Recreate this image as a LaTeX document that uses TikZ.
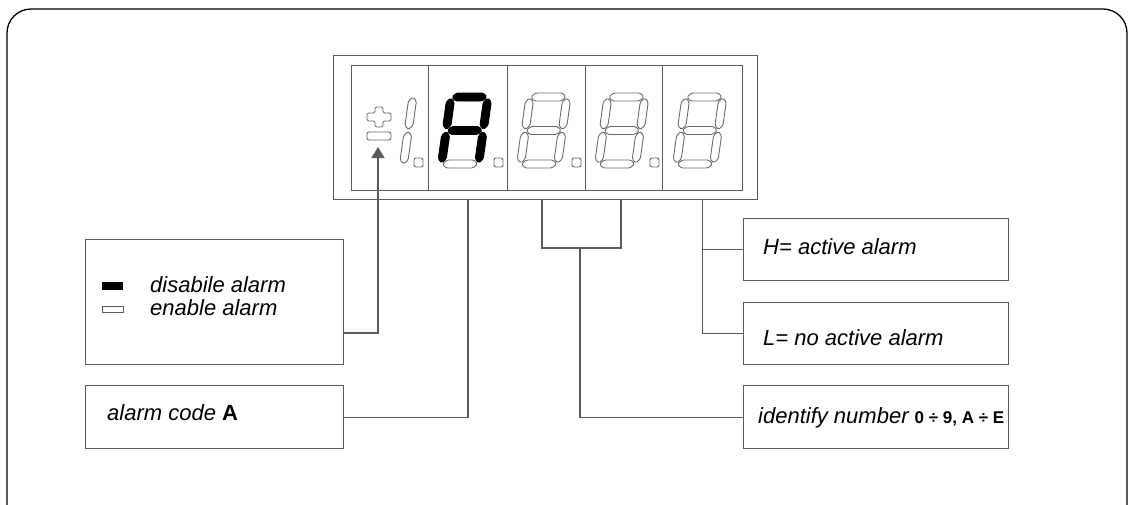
\documentclass[tikz,border=0pt]{standalone}
\usepackage{fontspec}
\setmainfont{Liberation Sans}
\usetikzlibrary{arrows.meta,positioning}
\definecolor{wiregray}{HTML}{5A5A5A}
\definecolor{seggray}{HTML}{6A6A6A}

\tikzset{
  wire/.style={draw=wiregray, line width=1.2pt},
  infobox/.style={draw=wiregray, line width=1.2pt, inner sep=0pt, anchor=north west},
  cell/.style={draw=wiregray, line width=1pt, inner sep=0pt, minimum height=125pt, anchor=north west},
  txt/.style={anchor=base west, inner sep=0pt, font=\fontsize{22}{26}\selectfont\itshape},
  seg/.style={draw=seggray, line width=0.9pt, rounded corners=1.5pt},
  lit/.style={fill=black, draw=black},
  sa/.style={}, sb/.style={}, sc/.style={}, sd/.style={}, se/.style={}, sf/.style={}, sg/.style={}
}

% one segment, lying or standing, given by its two tips
\newcommand{\hseg}[4][]{\draw[seg,#1] (#2,#4) -- ++(4,4) -- ({#3-4},{#4+4}) -- (#3,#4) -- ({#3-4},{#4-4}) -- ({#2+4},{#4-4}) -- cycle;}
\newcommand{\vseg}[4][]{\draw[seg,#1] (#2,#3) -- ++(4,4) -- ({#2+4},{#4-4}) -- (#2,#4) -- ({#2-4},{#4-4}) -- ({#2-4},{#3+4}) -- cycle;}
% a slanted seven segment digit, lower left corner at (#2,#3)
\newcommand{\segdigit}[3][]{%
  \begin{scope}[shift={(#2,#3)}, x=1pt, y=1pt, xslant=0.14, #1]
    \hseg[sa]{5}{40}{71}   \vseg[sb]{41}{38.5}{70}
    \vseg[sc]{41}{5}{36.5} \hseg[sd]{5}{40}{4}
    \vseg[se]{4}{5}{36.5}  \vseg[sf]{4}{38.5}{70}
    \hseg[sg]{5}{40}{37.5}
  \end{scope}}

\begin{document}
\begin{tikzpicture}[x=1pt, y=-1pt]
  \useasboundingbox (0,0) rectangle (1128,504);
  \draw[black, line width=1.3pt, rounded corners=24pt] (7,9) rectangle (1127,540);

  % display
  \node[draw=wiregray, line width=1.2pt, inner sep=0pt, minimum width=424pt, minimum height=144pt, anchor=north west] (disp) at (333,55) {};
  \foreach \n/\l/\r in {1/351/428, 2/428/507, 3/507/585, 4/585/662, 5/662/742}
    \node[cell, minimum width={(\r-\l)*1pt}] (c\n) at (\l,65) {};

  % sign and first digit
  \draw[seg, rounded corners=1.5pt] (375,107) -- (383,107) -- (383,113) -- (391,113) -- (391,121) -- (383,121)
    -- (383,127) -- (375,127) -- (375,121) -- (367,121) -- (367,113) -- (375,113) -- cycle;
  \draw[seg, rounded corners=2pt] (367,132) rectangle (391,140);
  \begin{scope}[shift={(362,168)}, x=1pt, y=1pt, xslant=0.14]
    \vseg{41}{38.5}{71} \vseg{41}{4}{36.5}
  \end{scope}
  \segdigit[sa/.style=lit, sb/.style=lit, sc/.style=lit, se/.style=lit, sf/.style=lit, sg/.style=lit]{437}{168}
  \segdigit{516}{168}
  \segdigit{594}{168}
  \segdigit{672}{168}
  \foreach \x in {414,494,572,650} \draw[seg, rounded corners=2pt] (\x,158) rectangle ++(9,9);

  % boxes
  \node[infobox, minimum width=258pt, minimum height=125pt] (legend) at (85,239) {};
  \node[infobox, minimum width=258pt, minimum height=63pt] (code) at (85,385) {};
  \node[infobox, minimum width=265pt, minimum height=62pt] (hi) at (743,218) {};
  \node[infobox, minimum width=265pt, minimum height=62pt] (lo) at (743,302) {};
  \node[infobox, minimum width=265pt, minimum height=63pt] (ident) at (743,385) {};

  \fill[black] (102,282) rectangle (123,290);
  \draw[wiregray, line width=0.8pt] (102,306) rectangle (123,312);
  \node[txt] (tdis) at (150,292) {disabile alarm};
  \node[txt] (ten) at (150,315) {enable alarm};
  \node[txt] (tcode) at (107,420) {alarm code \textbf{\upshape A}};
  \node[txt] (thi) at (763,254) {H= active alarm};
  \node[txt] (tlo) at (763,345) {L= no active alarm};
  \node[txt] (tid) at (758,423) {identify number {\fontsize{17}{20}\selectfont\bfseries\upshape 0 ÷ 9, A ÷ E}};

  % connectors
  \coordinate (tip) at (378,147);
  \coordinate (bend) at (378,333);
  \draw[wire, -{Triangle[width=13pt, length=11pt]}] (bend -| legend.east) -- (bend) -- (tip);
  \draw[wire] (c2 |- disp.south) |- (code.east);
  \coordinate (brl) at (542,248); \coordinate (brr) at (621,248); \coordinate (brm) at (580,248);
  \draw[wire] (brl |- disp.south) -- (brl) -- (brr) -- (brr |- disp.south);
  \draw[wire] (brm) |- (ident.west);
  \draw[wire] (c5 |- disp.south) |- (lo.west);
  \draw[wire] (c5 |- hi.west) -- (hi.west);
\end{tikzpicture}
\end{document}
